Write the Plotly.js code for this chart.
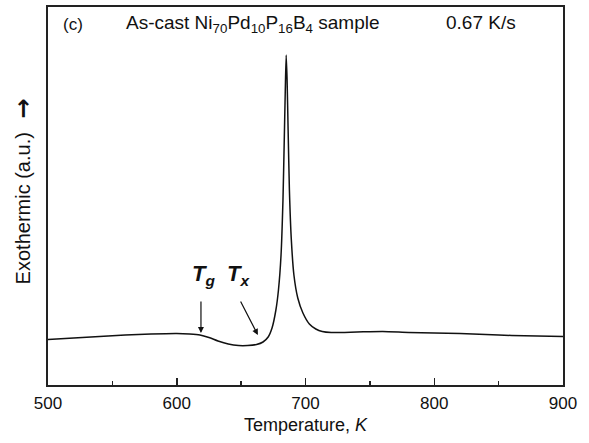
<!DOCTYPE html>
<html>
<head>
<meta charset="utf-8">
<script src="https://cdn.plot.ly/plotly-3.0.1.min.js"></script>
<style>html,body{margin:0;padding:0;background:#fff;}#chart{width:589px;height:443px;}</style>
</head>
<body>
<div id="chart"></div>
<script>
// Temperature (K)
var temperature = [500,520,540,560,580,600,610,618,625,632,640,648,655,662,667,671,674,677,679,681,682.5,683.5,684.3,685,685.7,686.5,687.5,689,691,694,698,703,708,713,720,740,760,780,800,820,840,860,880,900];
// Heat flow, exothermic up (arbitrary units)
var heatFlow = [45.5,47,48.5,50,51,51.5,51,50,47.5,44,41,39.5,39.5,40.5,43,48,57,75,95,130,185,245,295,330,305,255,195,145,110,87,72,61,56,53.5,52.5,53,53.5,52.5,52,51.5,50.5,49.5,49,48.5];
var xTicks = [500,600,700,800,900];

var trace = {x: temperature, y: heatFlow, type: 'scatter', mode: 'lines',
  line: {color: '#111', width: 1.5, shape: 'spline', smoothing: 0.6}, hoverinfo: 'none'};

var font = 'Liberation Sans, Arial, sans-serif';
var layout = {
  width: 589, height: 443,
  margin: {l: 48, r: 26, t: 7, b: 58},
  paper_bgcolor: '#fff', plot_bgcolor: '#fff',
  showlegend: false,
  font: {family: font, color: '#111', size: 17},
  xaxis: {range: [500, 900], tickvals: xTicks, ticktext: xTicks.map(String),
    ticks: 'inside', ticklen: 7, tickwidth: 1.5, tickcolor: '#222',
    minor: {tickvals: [550,650,750,850], ticks: 'inside', ticklen: 4, tickwidth: 1.5, tickcolor: '#222'},
    showgrid: false, zeroline: false, showline: true, mirror: true, linecolor: '#222', linewidth: 1.8,
    tickfont: {size: 17, family: font, color: '#111'}, ticklabelstandoff: 2,
    title: {text: 'Temperature, <i>K</i>', font: {size: 18, family: font, color: '#111'}, standoff: 6}},
  yaxis: {range: [0, 378], showticklabels: false, ticks: '', showgrid: false, zeroline: false,
    showline: true, mirror: true, linecolor: '#222', linewidth: 1.8,
    title: {text: ''}},
  annotations: [
    {xref: 'paper', yref: 'paper', x: -0.048, y: 0.468, xanchor: 'center', yanchor: 'middle', showarrow: false,
     textangle: -90, text: 'Exothermic (a.u.)', font: {size: 20, family: font, color: '#111'}},
    {xref: 'paper', yref: 'paper', x: -0.048, y: 0.732, xanchor: 'center', yanchor: 'middle', showarrow: false,
     textangle: -90, text: '<b>\u2192</b>', font: {size: 24, family: 'DejaVu Sans, sans-serif', color: '#111'}},
    {xref: 'paper', yref: 'paper', x: 0.025, y: 0.955, xanchor: 'left', yanchor: 'middle', showarrow: false,
     text: '(c)', font: {size: 17, family: font, color: '#111'}},
    {xref: 'paper', yref: 'paper', x: 0.148, y: 0.955, xanchor: 'left', yanchor: 'middle', showarrow: false,
     text: 'As-cast Ni<sub>70</sub>Pd<sub>10</sub>P<sub>16</sub>B<sub>4</sub> sample', font: {size: 19, family: font, color: '#111'}},
    {xref: 'paper', yref: 'paper', x: 0.768, y: 0.96, xanchor: 'left', yanchor: 'middle', showarrow: false,
     text: '0.67 K/s', font: {size: 19, family: font, color: '#111'}},
    {xref: 'x', yref: 'y', x: 621, y: 110, xanchor: 'center', yanchor: 'middle', showarrow: false,
     text: '<b><i>T</i></b><sub><b><i>g</i></b></sub>', font: {size: 22, family: font, color: '#111'}},
    {xref: 'x', yref: 'y', x: 648, y: 110, xanchor: 'center', yanchor: 'middle', showarrow: false,
     text: '<b><i>T</i></b><sub><b><i>x</i></b></sub>', font: {size: 22, family: font, color: '#111'}},
    {xref: 'x', yref: 'y', axref: 'x', ayref: 'y', x: 618.8, y: 52, ax: 618.8, ay: 85, text: '',
     showarrow: true, arrowhead: 2, arrowsize: 1, arrowwidth: 1.2, arrowcolor: '#111'},
    {xref: 'x', yref: 'y', axref: 'x', ayref: 'y', x: 663, y: 50, ax: 649, ay: 85, text: '',
     showarrow: true, arrowhead: 2, arrowsize: 1, arrowwidth: 1.2, arrowcolor: '#111'}
  ]
};
Plotly.newPlot('chart', [trace], layout, {displayModeBar: false, staticPlot: true});
</script>
</body>
</html>
